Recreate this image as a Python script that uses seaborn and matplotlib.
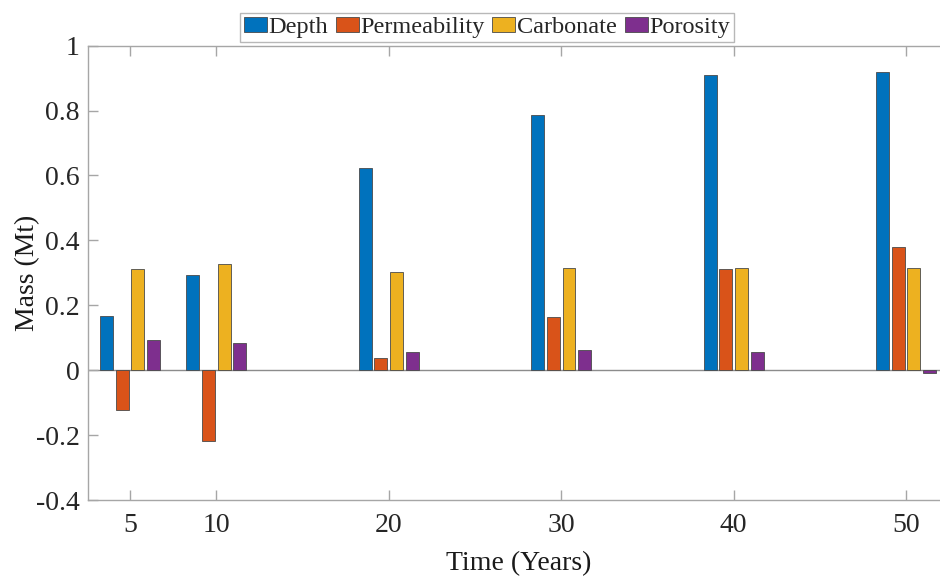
import matplotlib
matplotlib.use("Agg")
import matplotlib.pyplot as plt
import seaborn as sns
import pandas as pd

# Mass change attributed to each parameter over time
years = [5, 10, 20, 30, 40, 50]
depth = [0.168, 0.292, 0.623, 0.786, 0.910, 0.920]
permeability = [-0.123, -0.217, 0.039, 0.164, 0.312, 0.379]
carbonate = [0.311, 0.327, 0.304, 0.314, 0.315, 0.315]
porosity = [0.093, 0.083, 0.056, 0.061, 0.057, -0.008]

series_names = ["Depth", "Permeability", "Carbonate", "Porosity"]
series_values = [depth, permeability, carbonate, porosity]
colors = ["#0072BD", "#D95319", "#EDB120", "#7E2F8E"]

y_ticks = [-0.4, -0.2, 0, 0.2, 0.4, 0.6, 0.8, 1]
y_tick_labels = ["-0.4", "-0.2", "0", "0.2", "0.4", "0.6", "0.8", "1"]

rows = []
for name, vals in zip(series_names, series_values):
    for yr, v in zip(years, vals):
        rows.append({"Time": yr, "Mass": v, "Parameter": name})
df = pd.DataFrame(rows)

sns.set_style("ticks")
plt.rcParams["font.family"] = ["Liberation Serif", "DejaVu Serif"]
plt.rcParams["xtick.direction"] = "in"
plt.rcParams["ytick.direction"] = "in"

W, H = 940, 576
fig = plt.figure(figsize=(W / 100, H / 100), dpi=100)
px_per_unit = (906 - 130) / 45.0
x_left = 2.56
x_right = 52.5
ax_left_px = 88
ax_right_px = ax_left_px + (x_right - x_left) * px_per_unit
ax_top_px, ax_bot_px = 45.7, 500
ax = fig.add_axes([ax_left_px / W, 1 - ax_bot_px / H,
                   (ax_right_px - ax_left_px) / W, (ax_bot_px - ax_top_px) / H])

sns.barplot(data=df, x="Time", y="Mass", hue="Parameter",
            hue_order=series_names, palette=colors, native_scale=True,
            width=0.724, gap=0.17, errorbar=None, ax=ax,
            edgecolor="#4a4a4a", linewidth=0.6, saturation=1)

ax.axhline(0, color="#8c8c8c", lw=1.0, zorder=0.5)

ax.set_xlim(x_left, x_right)
ax.set_ylim(-0.4, 1)
ax.set_xticks(years)
ax.set_xticklabels([str(y) for y in years])
ax.set_yticks(y_ticks)
ax.set_yticklabels(y_tick_labels)

for side in ["left", "bottom", "top", "right"]:
    ax.spines[side].set_color("#a6a6a6")
    ax.spines[side].set_linewidth(1.0)
    ax.spines[side].set_visible(True)

ax.tick_params(axis="x", which="both", top=True, bottom=True, length=7,
               width=1.0, color="#a6a6a6", labelsize=20, labelcolor="#262626", pad=9)
ax.tick_params(axis="y", which="both", left=True, right=False, length=7,
               width=1.0, color="#a6a6a6", labelsize=20, labelcolor="#262626", pad=6)

ax.set_xlabel("Time (Years)", fontsize=20, color="#1a1a1a", labelpad=10)
ax.set_ylabel("Mass (Mt)", fontsize=20, color="#1a1a1a", labelpad=-3)

if ax.get_legend() is not None:
    ax.get_legend().remove()
handles, labels = ax.get_legend_handles_labels()
leg = fig.legend(handles[:4], labels[:4], loc="upper center", ncol=4,
                 bbox_to_anchor=(487 / W, 1 - 13 / H), frameon=True,
                 fancybox=False, fontsize=17.5, handlelength=0.95,
                 handleheight=0.6, handletextpad=0.08, columnspacing=0.3,
                 borderpad=0.15, borderaxespad=0)
leg.get_frame().set_edgecolor("#a6a6a6")
leg.get_frame().set_linewidth(1.0)

fig.savefig("out.png", dpi=100, facecolor="white")
